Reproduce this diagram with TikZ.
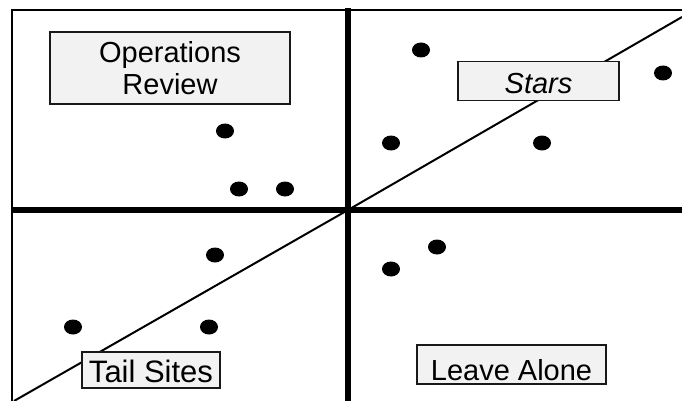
\documentclass[tikz,border=0pt]{standalone}
\usepackage{fontspec}
\setmainfont{Liberation Sans}
\usetikzlibrary{positioning,shapes.geometric}

\tikzset{
    labelbox/.style={draw=black!90, fill=black!5, line width=1.5pt, inner sep=0pt},
    site/.style={ellipse, fill=black, minimum width=18pt, minimum height=15pt, inner sep=0pt}
}

\begin{document}
\begin{tikzpicture}[x=1pt, y=-1pt, font=\fontsize{29}{32}\selectfont]

    % Fix the page to the reference size
    \useasboundingbox (0,0) rectangle (682,401);

    % Frame, axes and corner points
    \coordinate (TL) at (12,10);
    \coordinate (TR) at (682,10);
    \coordinate (BL) at (12,401);
    \coordinate (O) at (348,210);
    \coordinate (Otop) at (348,8);
    \coordinate (Obot) at (348,401);
    \coordinate (Oleft) at (12,210);
    \coordinate (Oright) at (682,210);

    % Draw the thin frame
    \draw[line width=2pt] (BL) -- (TL) -- (TR);

    % Draw the diagonal
    \coordinate (D1) at (14,401);
    \coordinate (D2) at (682,17);
    \draw[line width=2pt] (D1) -- (O) -- (D2);

    % Draw the quadrant axes
    \draw[line width=6pt] (Otop) -- (Obot);
    \draw[line width=6pt] (Oleft) -- (Oright);

    % Sites in each quadrant
    \foreach \px/\py [count=\i] in {225/131, 239/189, 285/189,
        421/50, 663/73, 391/143, 542/143,
        215/255, 73/327, 209/327,
        437/247, 391/269}
        \node[site] (s\i) at (\px,\py) {};

    % Quadrant labels
    \node[labelbox, minimum width=240pt, minimum height=72pt, align=center]
        (ops) at (170,68) {Operations\\Review};
    \node[labelbox, minimum width=161pt, text height=32pt, text depth=7pt,
        anchor=north] (stars) at (538.5,61) {\itshape Stars};
    \node[labelbox, minimum width=138pt, text height=31pt, text depth=5pt,
        anchor=north, font=\fontsize{31}{34}\selectfont] (tail) at (151,351) {Tail Sites};
    \node[labelbox, minimum width=189pt, text height=36pt, text depth=3pt,
        anchor=north] (leave) at (511.5,344) {Leave Alone};

\end{tikzpicture}
\end{document}
